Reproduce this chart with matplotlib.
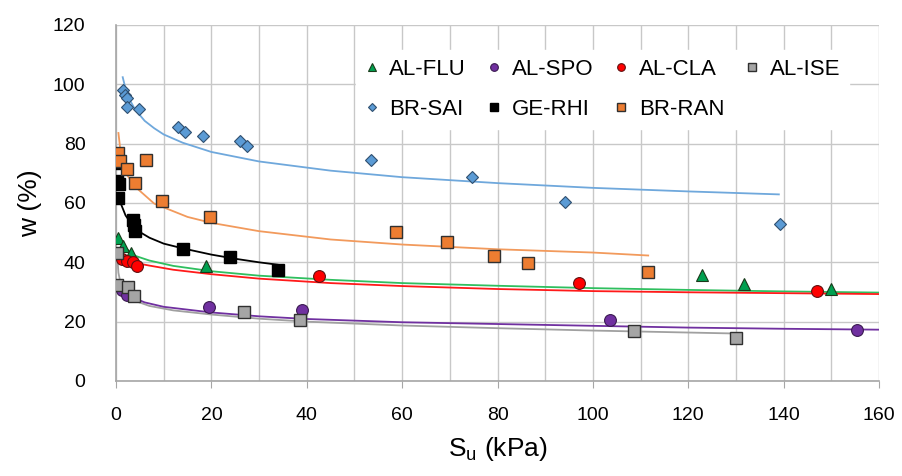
import matplotlib
matplotlib.use("Agg")
import matplotlib.pyplot as plt
from matplotlib.ticker import MultipleLocator

plt.rcParams["font.family"] = ["Liberation Sans", "DejaVu Sans"]

# measured points (Su in kPa, w in %)
flu_su = [0.5, 1.5, 3.2, 18.8, 122.8, 131.7, 149.9]
flu_w = [48.2, 45.5, 43.0, 38.9, 35.6, 32.8, 31.0]

spo_su = [1.2, 2.2, 19.4, 38.9, 103.6, 155.4]
spo_w = [30.8, 29.1, 25.0, 23.8, 20.4, 17.3]

cla_su = [1.3, 2.4, 3.5, 4.5, 42.6, 97.1, 146.9]
cla_w = [41.0, 40.6, 40.0, 38.8, 35.3, 33.0, 30.2]

ise_su = [0.2, 0.2, 2.6, 3.8, 26.8, 38.6, 108.6, 130.1]
ise_w = [43.2, 32.5, 31.7, 28.8, 23.3, 20.4, 16.7, 14.5]

sai_su = [1.4, 1.9, 2.2, 2.2, 4.9, 12.9, 14.5, 18.2, 25.9, 27.5, 53.5, 74.7, 94.2, 139.2]
sai_w = [98.1, 96.4, 95.3, 92.2, 91.7, 85.7, 84.0, 82.6, 80.9, 79.3, 74.4, 68.7, 60.5, 53.0]

rhi_su = [0.1, 0.2, 0.6, 0.5, 3.6, 3.8, 4.0, 14.0, 23.8, 33.9]
rhi_w = [73.6, 67.5, 66.3, 61.7, 54.2, 52.5, 50.5, 44.5, 41.8, 37.3]

ran_su = [0.5, 0.8, 2.2, 6.3, 4.0, 9.6, 19.7, 58.8, 69.4, 79.2, 86.4, 111.6]
ran_w = [76.8, 74.1, 71.4, 74.6, 66.6, 60.6, 55.2, 50.3, 47.0, 42.2, 39.9, 36.8]

# trend lines
sai_fit_su = [1.4, 2, 3, 4, 6, 8, 10, 14, 20, 30, 45, 60, 80, 100, 120, 139]
sai_fit_w = [102.4, 98.5, 94.4, 91.5, 87.7, 85.2, 83.1, 80.3, 77.2, 74.0, 70.9, 68.7, 66.7, 65.1, 63.9, 62.9]

ran_fit_su = [0.5, 1, 2, 4, 8, 15, 20, 30, 45, 60, 80, 100, 111.6]
ran_fit_w = [83.6, 76.6, 70.2, 65.5, 59.8, 55.3, 53.3, 50.5, 47.7, 46.0, 44.4, 43.3, 42.3]

rhi_fit_su = [0.5, 1, 2, 3, 5, 7, 10, 14, 20, 25, 30, 33.9]
rhi_fit_w = [62.5, 59.8, 55.8, 53.5, 50.2, 48.3, 46.3, 44.7, 42.6, 41.2, 40.0, 39.2]

flu_fit_su = [0.7, 1, 2, 4, 7, 12, 20, 30, 45, 60, 80, 100, 120, 140, 160]
flu_fit_w = [48.5, 47.5, 44.8, 42.2, 40.6, 38.8, 37.0, 35.5, 34.1, 33.0, 32.1, 31.3, 30.7, 30.2, 29.8]

cla_fit_su = [0.5, 1, 2, 4, 7, 12, 20, 30, 45, 60, 80, 100, 120, 140, 160]
cla_fit_w = [42.5, 41.5, 40.5, 39.8, 38.9, 37.5, 36.0, 34.5, 33.0, 32.0, 31.0, 30.3, 29.9, 29.6, 29.3]

spo_fit_su = [0.8, 1.5, 3, 6, 10, 20, 30, 40, 60, 80, 100, 120, 140, 160]
spo_fit_w = [33.5, 31.0, 28.5, 26.5, 25.0, 23.1, 21.8, 20.9, 19.8, 19.2, 18.6, 18.0, 17.6, 17.3]

ise_fit_su = [0.2, 0.5, 1, 2, 4, 7, 12, 20, 30, 40, 60, 80, 100, 115, 130]
ise_fit_w = [43.5, 36.5, 32.5, 29.5, 27.0, 25.3, 23.8, 22.4, 21.0, 20.0, 18.7, 17.8, 17.0, 16.5, 16.0]

fig = plt.figure(figsize=(9.03, 4.76), dpi=100)
ax = fig.add_axes([0.1285, 0.1996, 0.8449, 0.7479])

# trend lines
ax.plot(sai_fit_su, sai_fit_w, color="#6fa8dc", lw=1.3, zorder=2)
ax.plot(ran_fit_su, ran_fit_w, color="#f29a5c", lw=1.3, zorder=2)
ax.plot(rhi_fit_su, rhi_fit_w, color="black", lw=1.3, zorder=2)
ax.plot(flu_fit_su, flu_fit_w, color="#2fbf5f", lw=1.3, zorder=2)
ax.plot(cla_fit_su, cla_fit_w, color="#ff1a1a", lw=1.3, zorder=2)
ax.plot(ise_fit_su, ise_fit_w, color="#a0a0a0", lw=1.3, zorder=2)
ax.plot(spo_fit_su, spo_fit_w, color="#7030a0", lw=1.3, zorder=2)

# points
h_flu, = ax.plot(flu_su, flu_w, "^", ms=8.5, mfc="#00a050", mec="#1a3a1a", mew=0.8, ls="none", zorder=3)
h_spo, = ax.plot(spo_su, spo_w, "o", ms=8.5, mfc="#7030a0", mec="#3a1a50", mew=0.8, ls="none", zorder=3)
h_cla, = ax.plot(cla_su, cla_w, "o", ms=8.5, mfc="#ff0000", mec="#601010", mew=0.8, ls="none", zorder=3)
h_ise, = ax.plot(ise_su, ise_w, "s", ms=8.5, mfc="#a5a5a5", mec="#303030", mew=1.0, ls="none", zorder=3)
h_sai, = ax.plot(sai_su, sai_w, "D", ms=6.5, mfc="#5b9bd5", mec="#2f4f6f", mew=0.8, ls="none", zorder=3)
h_rhi, = ax.plot(rhi_su, rhi_w, "s", ms=8.5, mfc="black", mec="black", mew=1.0, ls="none", zorder=3)
h_ran, = ax.plot(ran_su, ran_w, "s", ms=8.5, mfc="#ed7d31", mec="#303030", mew=1.0, ls="none", zorder=3)

ax.set_xlim(0, 160)
ax.set_ylim(0, 120)
ax.xaxis.set_major_locator(MultipleLocator(20))
ax.xaxis.set_minor_locator(MultipleLocator(10))
ax.yaxis.set_major_locator(MultipleLocator(20))
ax.grid(True, which="both", axis="x", color="#c8c8c8", lw=1.0)
ax.grid(True, which="major", axis="y", color="#c8c8c8", lw=1.0)
ax.set_axisbelow(True)

for s in ["top", "right"]:
    ax.spines[s].set_visible(False)
for s in ["left", "bottom"]:
    ax.spines[s].set_color("#a6a6a6")
    ax.spines[s].set_linewidth(1.2)
ax.tick_params(axis="both", which="major", length=5, color="#a6a6a6", labelsize=14)
ax.tick_params(axis="x", which="minor", length=0)
ax.tick_params(axis="x", pad=14)
ax.tick_params(axis="y", length=0, pad=22)

ax.set_xlabel("S$_\\mathregular{u}$ (kPa)", fontsize=19, labelpad=8)
ax.set_ylabel("w (%)", fontsize=19, labelpad=8)

handles = [h_flu, h_sai, h_spo, h_rhi, h_cla, h_ran, h_ise]
labels = ["AL-FLU", "BR-SAI", "AL-SPO", "GE-RHI", "AL-CLA", "BR-RAN", "AL-ISE"]
leg = ax.legend(handles, labels, ncol=4, loc="upper left", bbox_to_anchor=(0.3, 0.96),
                fontsize=16, markerscale=0.65, frameon=True, fancybox=False,
                edgecolor="white", framealpha=1.0, handlelength=0.6, handletextpad=0.5,
                columnspacing=0.95, labelspacing=0.85, borderpad=0.4)

fig.savefig("out.png", dpi=100)
